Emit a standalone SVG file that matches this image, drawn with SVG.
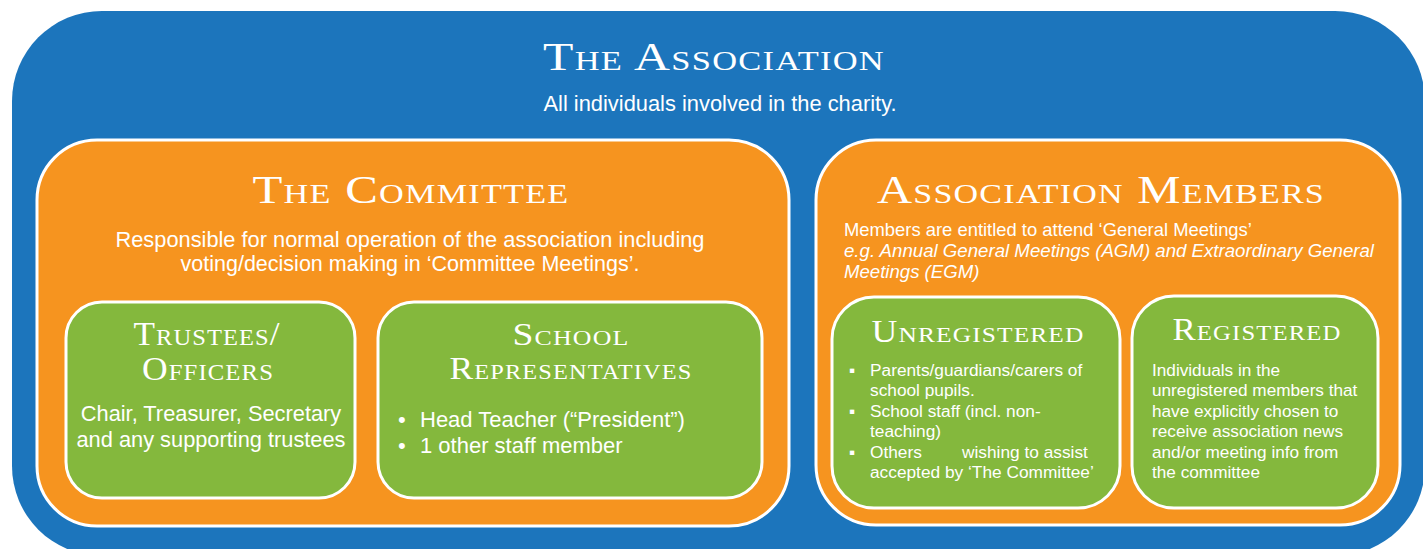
<svg xmlns="http://www.w3.org/2000/svg" width="1423" height="549" viewBox="0 0 1423 549">
  <style>
    .blue { fill: #1c75bc; }
    .orange { fill: #f6941f; stroke: #ffffff; stroke-width: 3; }
    .green { fill: #84b83d; stroke: #ffffff; stroke-width: 3; }
    .title { font-family: "Liberation Serif", "DejaVu Serif", serif; font-variant: small-caps; fill: #ffffff; text-anchor: middle; letter-spacing: 1px; }
    .body { font-family: "Liberation Sans", Arial, sans-serif; fill: #ffffff; }
    .mid { text-anchor: middle; }
  </style>

  <!-- Outer container: the association -->
  <g id="association">
    <rect class="blue" x="12" y="11" width="1413" height="545" rx="90" ry="90"/>
    <text class="title" x="714" y="70" font-size="39" textLength="342" lengthAdjust="spacingAndGlyphs">The Association</text>
    <text class="body mid" x="720" y="111" font-size="21.5" textLength="353" lengthAdjust="spacingAndGlyphs">All individuals involved in the charity.</text>
  </g>

  <!-- The committee -->
  <g id="committee">
    <rect class="orange" x="37" y="140" width="752" height="386" rx="60" ry="60"/>
    <text class="title" x="411" y="203" font-size="40" textLength="317" lengthAdjust="spacingAndGlyphs">The Committee</text>
    <text class="body mid" x="410" y="247" font-size="21.5" textLength="589" lengthAdjust="spacingAndGlyphs">Responsible for normal operation of the association including</text>
    <text class="body mid" x="410" y="271" font-size="21.5">voting/decision making in ‘Committee Meetings’.</text>
  </g>

  <g id="trustees">
    <rect class="green" x="66" y="302" width="289" height="196" rx="36" ry="36"/>
    <text class="title" x="207" y="345" font-size="33" textLength="147" lengthAdjust="spacingAndGlyphs">Trustees/</text>
    <text class="title" x="208" y="380" font-size="33" textLength="132" lengthAdjust="spacingAndGlyphs">Officers</text>
    <text class="body mid" x="211" y="421" font-size="21.8">Chair, Treasurer, Secretary</text>
    <text class="body mid" x="211" y="447" font-size="21.8">and any supporting trustees</text>
  </g>

  <g id="school-representatives">
    <rect class="green" x="378" y="302" width="384" height="196" rx="36" ry="36"/>
    <text class="title" x="571" y="345" font-size="32" textLength="117" lengthAdjust="spacingAndGlyphs">School</text>
    <text class="title" x="571" y="379" font-size="32" textLength="243" lengthAdjust="spacingAndGlyphs">Representatives</text>
    <text class="body" font-size="22">
      <tspan x="398" y="427">•</tspan><tspan x="420" y="427">Head Teacher (“President”)</tspan>
      <tspan x="398" y="453">•</tspan><tspan x="420" y="453">1 other staff member</tspan>
    </text>
  </g>

  <!-- Association members -->
  <g id="association-members">
    <rect class="orange" x="816" y="140" width="584" height="385" rx="60" ry="60"/>
    <text class="title" x="1101" y="203" font-size="40" textLength="448" lengthAdjust="spacingAndGlyphs">Association Members</text>
    <text class="body" x="844" y="236" font-size="18.4">Members are entitled to attend ‘General Meetings’</text>
    <text class="body" x="844" y="257" font-size="18.6" font-style="italic" textLength="530" lengthAdjust="spacingAndGlyphs">e.g. Annual General Meetings (AGM) and Extraordinary General</text>
    <text class="body" x="844" y="278" font-size="18.6" font-style="italic">Meetings (EGM)</text>
  </g>

  <g id="unregistered">
    <rect class="green" x="832" y="297" width="288" height="211" rx="42" ry="42"/>
    <text class="title" x="978" y="342" font-size="31" textLength="213" lengthAdjust="spacingAndGlyphs">Unregistered</text>
    <text class="body" font-size="17.3">
      <tspan x="849" y="376">▪</tspan><tspan x="870" y="376">Parents/guardians/carers of</tspan>
      <tspan x="870" y="396">school pupils.</tspan>
      <tspan x="849" y="417">▪</tspan><tspan x="870" y="417">School staff (incl. non-</tspan>
      <tspan x="870" y="437">teaching)</tspan>
      <tspan x="849" y="458">▪</tspan><tspan x="870" y="458">Others</tspan><tspan x="962" y="458">wishing to assist</tspan>
      <tspan x="870" y="478">accepted by ‘The Committee’</tspan>
    </text>
  </g>

  <g id="registered">
    <rect class="green" x="1132" y="296" width="246" height="212" rx="42" ry="42"/>
    <text class="title" x="1257" y="340" font-size="31" textLength="169" lengthAdjust="spacingAndGlyphs">Registered</text>
    <text class="body" font-size="17.2">
      <tspan x="1152" y="376">Individuals in the</tspan>
      <tspan x="1152" y="396">unregistered members that</tspan>
      <tspan x="1152" y="417">have explicitly chosen to</tspan>
      <tspan x="1152" y="437">receive association news</tspan>
      <tspan x="1152" y="458">and/or meeting info from</tspan>
      <tspan x="1152" y="478">the committee</tspan>
    </text>
  </g>

  <!-- containment only; no connectors are drawn -->
  <g id="connectors"/>
</svg>
